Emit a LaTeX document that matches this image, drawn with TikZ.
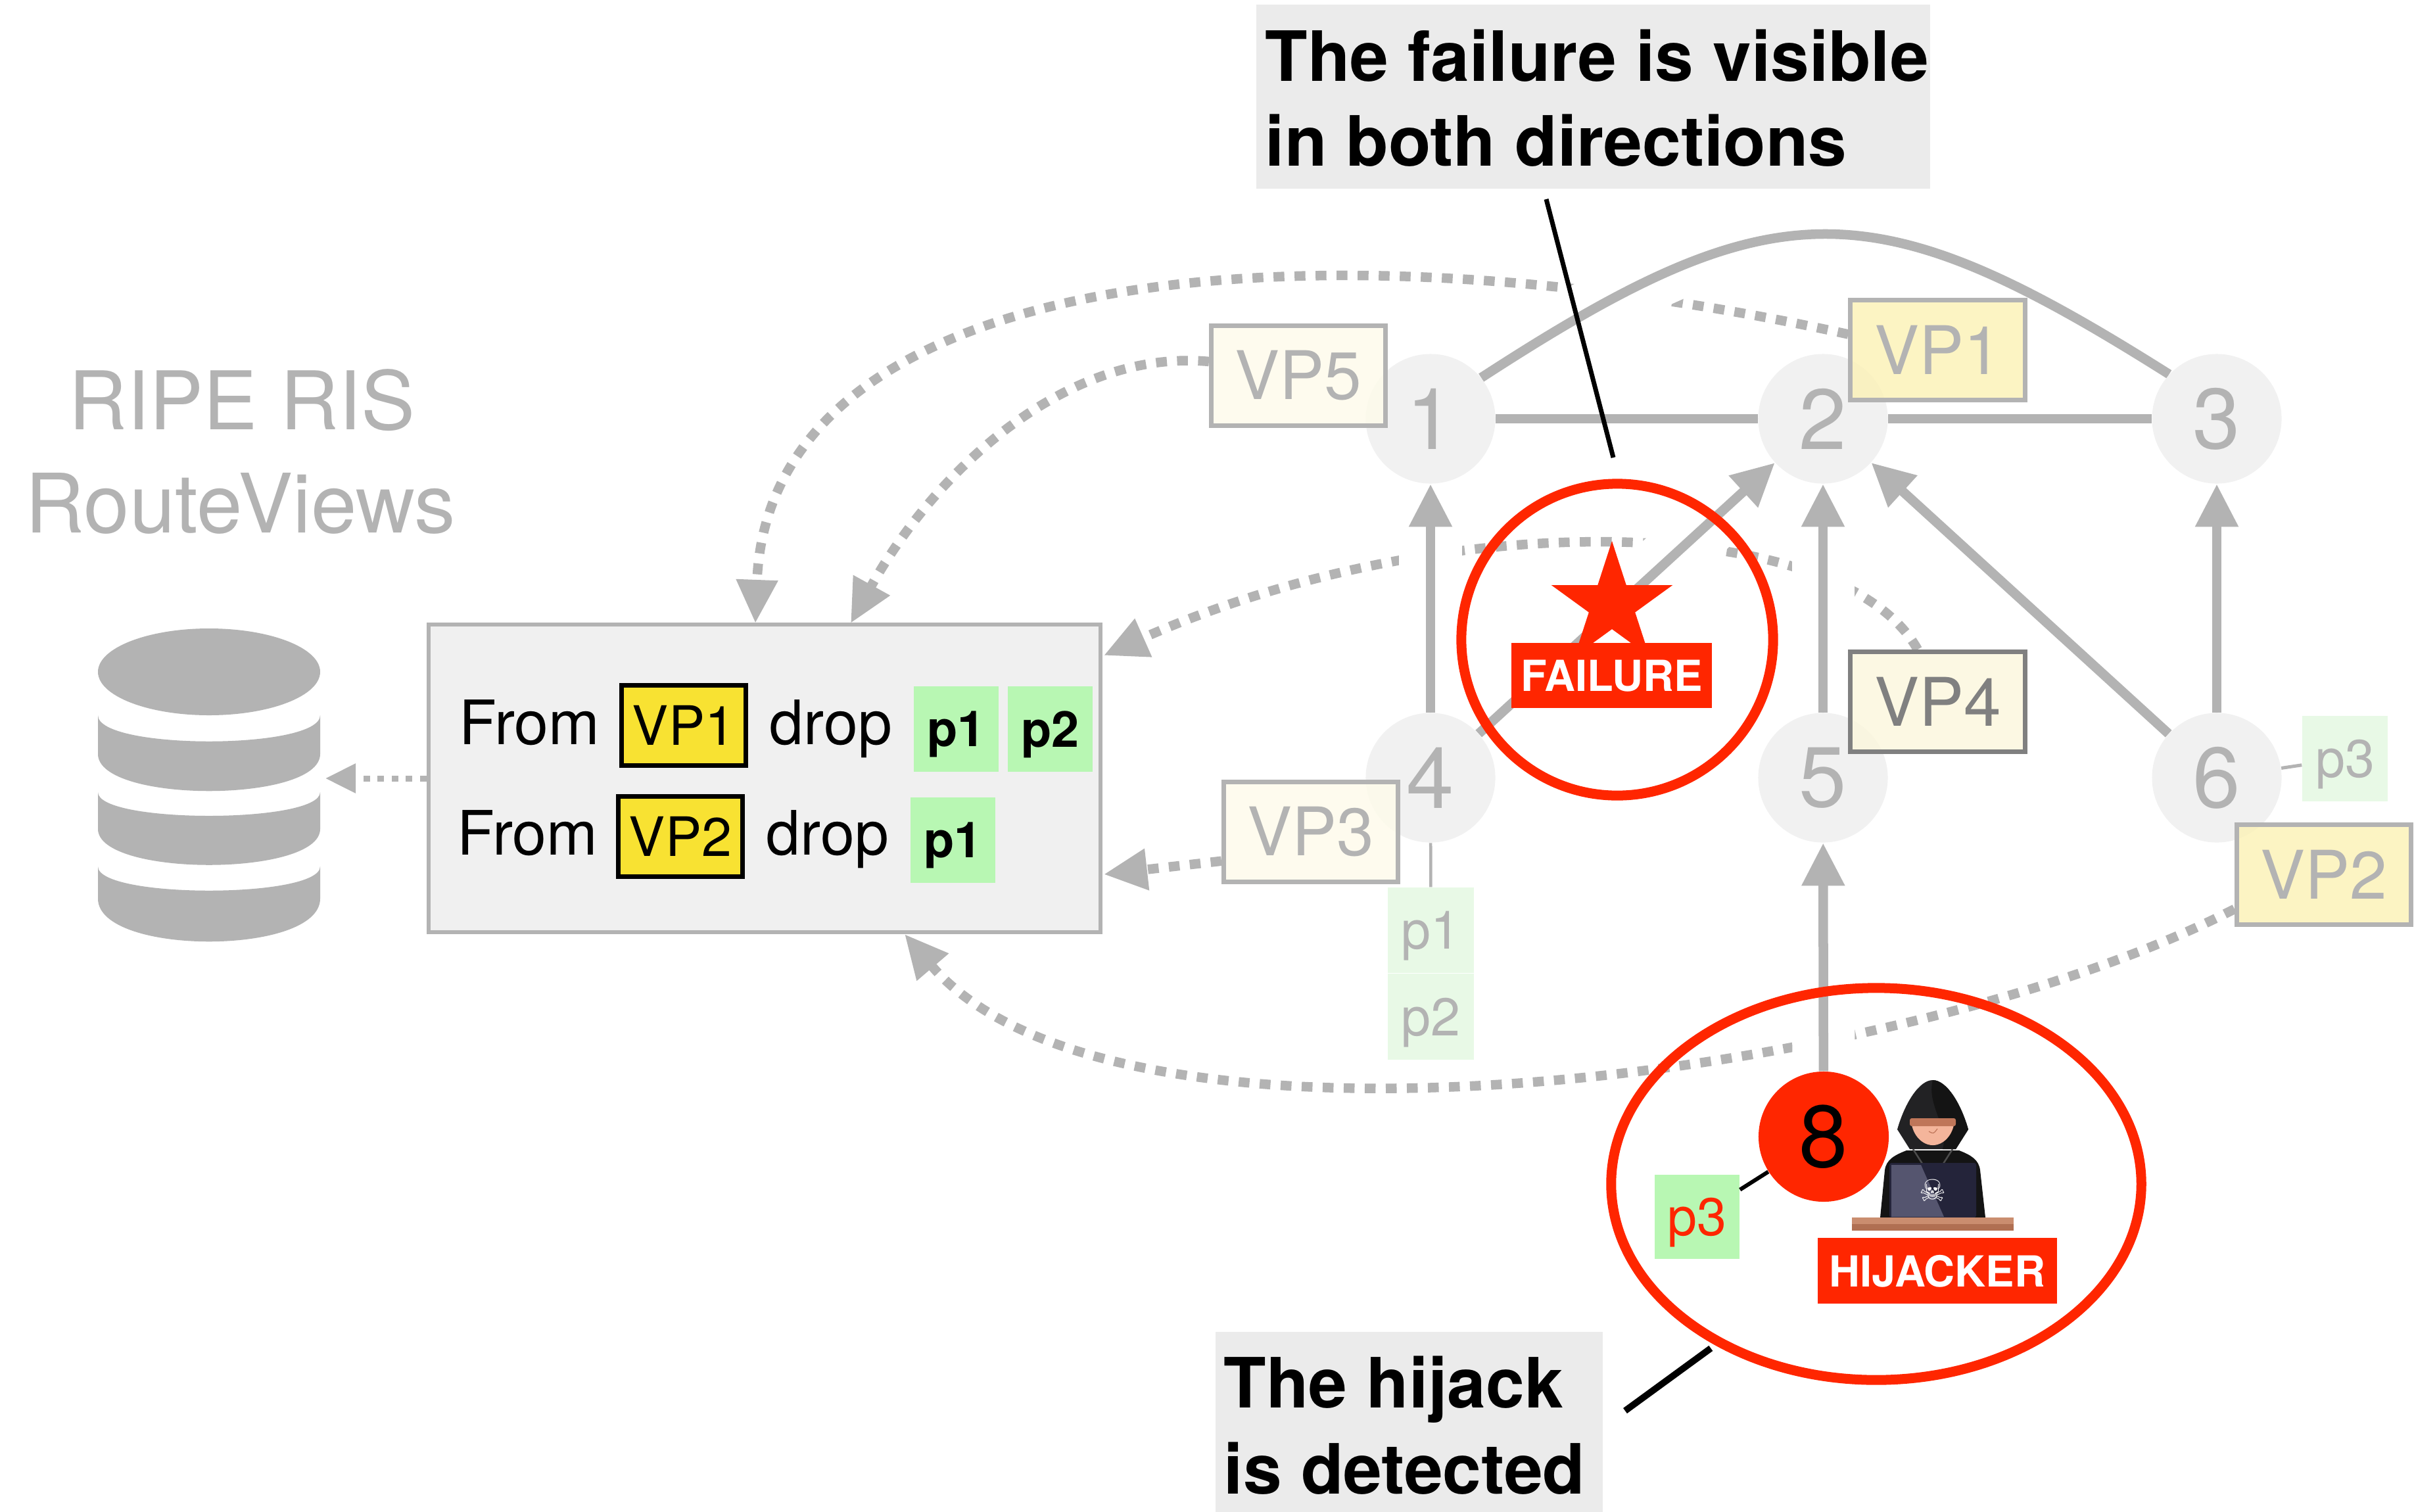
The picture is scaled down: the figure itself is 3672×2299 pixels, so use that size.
\documentclass[tikz,border=0pt]{standalone}
\usepackage{fontspec}
\setmainfont{TeX Gyre Heros}
\newfontfamily\symbolfont{DejaVu Sans}
\usetikzlibrary{arrows.meta,shapes.geometric}

\definecolor{lgray}{HTML}{B3B3B3}
\definecolor{nodefill}{HTML}{F1F1F1}
\definecolor{boxfill}{HTML}{F0F0F0}
\definecolor{notegray}{HTML}{EBEBEB}
\definecolor{hred}{HTML}{FF2600}
\definecolor{selyellow}{HTML}{F8E232}
\definecolor{pgreen}{HTML}{B8F7B3}
\definecolor{pfaded}{HTML}{E8F9E6}
\definecolor{vpyellow}{HTML}{FCF2B5}
\definecolor{vpfaint}{HTML}{FEFBEA}
\definecolor{vpcream}{HTML}{FCF7DC}
\definecolor{vpdark}{HTML}{808080}
\definecolor{hoodblack}{HTML}{141414}
\definecolor{hoodlight}{HTML}{222224}
\definecolor{skin}{HTML}{F4B59B}
\definecolor{hair}{HTML}{BF7659}
\definecolor{laptopdark}{HTML}{24243A}
\definecolor{laptoplight}{HTML}{55556F}
\definecolor{desktop}{HTML}{CA8D6F}
\definecolor{deskedge}{HTML}{B06F52}

\newcommand{\fs}[1]{\fontsize{#1pt}{#1pt}\selectfont}

\pgfdeclarelayer{canvas}
\pgfdeclarelayer{under}
\pgfdeclarelayer{halo}
\pgfdeclarelayer{links}
\pgfsetlayers{canvas,under,halo,links,main}

\begin{document}
\begin{tikzpicture}[x=0.01cm, y=-0.01cm,
  asnode/.style={circle, fill=nodefill, minimum size=1.97cm, inner sep=0pt, text=lgray, font=\fs{37}},
  link/.style={draw=lgray, line width=0.145cm},
  arr/.style={link, -{Triangle[length=0.65cm,width=0.62cm]}},
  halo/.style={draw=white, line width=0.95cm},
  feed/.style={draw=lgray, line width=0.145cm, dash pattern=on 0.165cm off 0.155cm, -{Triangle[length=0.66cm,width=0.6cm]}},
  dbfeed/.style={draw=lgray, line width=0.09cm, dash pattern=on 0.1cm off 0.115cm, -{Triangle[length=0.46cm,width=0.43cm]}},
  vp/.style={draw=lgray, line width=0.07cm, fill opacity=0.8, text opacity=1, text=lgray, font=\fs{29}, inner sep=0pt, minimum width=2.65cm, minimum height=1.52cm},
  sel/.style={draw=black, line width=0.07cm, fill=selyellow, minimum width=1.89cm, minimum height=1.22cm, inner sep=0pt, text depth=0pt, font=\fs{23.5}},
  pbox/.style={fill=pgreen, minimum width=1.29cm, minimum height=1.30cm, inner sep=0pt, text depth=0pt, font=\bfseries\fs{21.5}},
  pfade/.style={fill=pfaded, minimum width=1.30cm, minimum height=1.30cm, inner sep=0pt, text depth=0pt, text=lgray, font=\fs{23}},
  redtag/.style={fill=hred, text=white, inner sep=0pt, text depth=0pt, font=\bfseries\fs{18.5}},
  note/.style={fill=notegray, inner sep=0pt},
  notetext/.style={anchor=base west, inner sep=0pt, font=\bfseries\fs{30}},
  word/.style={anchor=base west, inner sep=0pt, font=\fs{26.5}},
  ring/.style={draw=hred, line width=0.15cm},
  callout/.style={draw=black, line width=0.07cm}
]
\useasboundingbox (0,0) rectangle (3672,2299);
\begin{pgfonlayer}{canvas}
  \fill[white] (0,0) rectangle (3672,2299);
\end{pgfonlayer}

% ---- top annotation
\node[note, minimum width=10.25cm, minimum height=2.80cm] (topnote) at (2423.5,147) {};
\node[notetext] (topnoteA) at (1924,123) {The failure is visible};
\node[notetext] (topnoteB) at (1924,252) {in both directions};

% ---- collector label and database
\node[anchor=base, inner sep=0pt, text=lgray, font=\fs{35}] (ripe) at (368,653) {RIPE RIS};
\node[anchor=base, inner sep=0pt, text=lgray, font=\fs{35.5}] (routeviews) at (366,810) {RouteViews};

\fill[lgray] (318,1022) ellipse[x radius=169, y radius=66];
\fill[lgray] (149,1088) .. controls (149,1141) and (487,1141) .. (487,1088)
  -- (487,1147) .. controls (487,1222) and (149,1222) .. (149,1147) -- cycle;
\fill[lgray] (149,1205) .. controls (149,1253) and (487,1253) .. (487,1205)
  -- (487,1261) .. controls (487,1334) and (149,1334) .. (149,1261) -- cycle;
\fill[lgray] (149,1318) .. controls (149,1367) and (487,1367) .. (487,1318)
  -- (487,1367) .. controls (487,1454) and (149,1454) .. (149,1367) -- cycle;
\coordinate (dbin) at (495,1184);

% ---- filter rules
\node[draw=lgray, line width=0.06cm, fill=boxfill, minimum width=10.22cm, minimum height=4.68cm, inner sep=0pt] (filter) at (1163,1184) {};
\node[word] (from1) at (698,1132) {From};
\node[sel] (sel1) at (1040,1103.5) {VP1};
\node[word] (drop1) at (1170,1132) {drop};
\node[pbox] (pa1) at (1454.5,1109) {p1};
\node[pbox] (pa2) at (1597.5,1109) {p2};
\node[word] (from2) at (695,1300) {From};
\node[sel] (sel2) at (1035,1272.5) {VP2};
\node[word] (drop2) at (1165,1300) {drop};
\node[pbox] (pb1) at (1449.5,1278) {p1};

\coordinate (inA) at (1149,948);
\coordinate (inB) at (1294,948);
\coordinate (inC) at (1679,997);
\coordinate (inD) at (1679,1330);
\coordinate (inE) at (1376,1421);

% ---- AS nodes
\node[asnode] (n1) at (2176,637) {1};
\node[asnode] (n2) at (2773,637) {2};
\node[asnode] (n3) at (3372,637) {3};
\node[asnode] (n4) at (2176,1183) {4};
\node[asnode] (n5) at (2773,1183) {5};
\node[asnode] (n6) at (3372,1183) {6};

% ---- failure
\node[circle, ring, minimum size=4.74cm, inner sep=0pt] (failzone) at (2460,973) {};
\fill[hred] (2452,920) +(-90:97) -- +(-54:37) -- +(-18:97) -- +(18:37) -- +(54:97)
  -- +(90:37) -- +(126:97) -- +(162:37) -- +(198:97) -- +(234:37) -- cycle;
\node[redtag, minimum width=3.05cm, minimum height=0.99cm] (failtag) at (2451.5,1027.5) {FAILURE};

% ---- vantage points
\node[vp, fill=vpfaint] (vp5) at (1975,571.5) {VP5};
\node[vp, fill=vpyellow] (vp1) at (2947.5,532.5) {VP1};
\node[vp, fill=vpcream, draw=vpdark, text=vpdark] (vp4) at (2947.5,1067.5) {VP4};
\node[vp, fill=vpfaint] (vp3) at (1994,1265.5) {VP3};
\node[vp, fill=vpyellow] (vp2) at (3535,1330.5) {VP2};

% ---- announced prefixes
\node[pfade] (pg1) at (2176.5,1415) {p1};
\node[pfade] (pg2) at (2176.5,1546.5) {p2};
\node[pfade] (pg3) at (3567,1154) {p3};

% ---- hijacker
\node[ellipse, ring, minimum width=8.06cm, minimum height=5.96cm, inner sep=0pt] (hijackzone) at (2854,1801) {};
\node[circle, fill=hred, minimum size=1.98cm, inner sep=0pt, font=\fs{38}] (n8) at (2774,1729) {8};
\node[pbox, minimum height=1.28cm, text=hred, font=\fs{23}] (p3h) at (2581.5,1851) {p3};
\draw[draw=black, line width=0.06cm] (n8) -- (p3h);

% hooded figure behind a laptop
\fill[hoodblack] (2860,1852) -- (2867,1780) .. controls (2869,1764) and (2882,1757) .. (2900,1750)
  -- (2980,1750) .. controls (2998,1757) and (3010,1764) .. (3012,1780) -- (3020,1852) -- cycle;
\fill[hoodlight] (2886,1718) .. controls (2898,1676) and (2920,1643) .. (2940,1643)
  .. controls (2960,1643) and (2982,1676) .. (2994,1718) -- (2975,1748) -- (2905,1748) -- cycle;
\fill[hoodblack] (2940,1643) .. controls (2960,1643) and (2982,1676) .. (2994,1718)
  -- (2975,1748) -- (2955,1748) .. controls (2965,1715) and (2930,1680) .. (2940,1643) -- cycle;
\fill[skin] (2907,1705) -- (2973,1705) .. controls (2971,1727) and (2956,1742) .. (2940,1742)
  .. controls (2924,1742) and (2909,1727) .. (2907,1705) -- cycle;
\fill[hair, rounded corners=0.03cm] (2905,1701) rectangle (2975,1713);
\draw[hair, line width=0.012cm] (2934,1721) .. controls (2941,1725) .. (2947,1717);
\draw[black!70, line width=0.025cm] (2910,1748) -- (2924,1770);
\draw[black!70, line width=0.025cm] (2970,1748) -- (2956,1770);
\fill[laptopdark, rounded corners=0.03cm] (2874,1769) rectangle (3006,1852);
\fill[laptoplight] (2877,1772) -- (2922,1772) -- (2957,1851) -- (2877,1851) -- cycle;
\node[text=white, inner sep=0pt, font=\symbolfont\fs{13}] (skull) at (2940,1811) {☠};
\fill[desktop] (2817,1852) rectangle (3063,1862);
\fill[deskedge] (2817,1862) rectangle (3063,1872);
\node[redtag, minimum width=3.64cm, minimum height=1.00cm] (hijtag) at (2947,1933) {HIJACKER};

% ---- callouts
\coordinate (c1a) at (2352,303);
\coordinate (c1b) at (2454,696);
\draw[callout] (c1a) -- (c1b);
\node[note, minimum width=5.89cm, minimum height=2.84cm] (botnote) at (2143.5,2168) {};
\node[notetext] (botnoteA) at (1861,2141) {The hijack};
\node[notetext] (botnoteB) at (1861,2272) {is detected};
\coordinate (c2a) at (2472,2146);
\draw[callout, line width=0.1cm, shorten <=0.08cm] (hijackzone.225) -- (c2a);

% ---- AS links
\begin{pgfonlayer}{links}
  \draw[link] (n1) -- (n2);
  \draw[link] (n2) -- (n3);
  \draw[link] (n1.39) .. controls (2700,284) and (2848,284) .. (n3.137);
  \draw[arr] (n4) -- (n1);
  \draw[arr] (n4) -- (n2);
  \draw[arr] (n5) -- (n2);
  \draw[arr] (n6) -- (n2);
  \draw[arr] (n6) -- (n3);
  \draw[arr] (n8) -- (n5);
  \draw[draw=lgray, line width=0.045cm] (n4) -- (pg1);
  \draw[draw=lgray, line width=0.05cm] (n6) -- (pg3);
\end{pgfonlayer}

% ---- gaps where the feeds pass under links
\begin{pgfonlayer}{halo}
  \draw[halo] (n4) -- (n1);
  \draw[halo] (n4) -- (n2);
  \draw[halo] (n5) -- (n2);
  \draw[halo] (n6) -- (n2);
  \draw[halo] (n8) -- (n5);
  \draw[halo] (n1.39) .. controls (2700,284) and (2848,284) .. (n3.137);
\end{pgfonlayer}

% ---- route feeds to the collector
\begin{pgfonlayer}{under}
  \draw[feed] (vp1.170) .. controls (2000,330) and (1170,400) .. (inA);
  \draw[feed] (vp5.171) .. controls (1620,530) and (1420,720) .. (inB);
  \draw[feed] (vp4.111) .. controls (2800,780) and (2200,765) .. (inC);
  \draw[feed] (vp3.198) -- (inD);
  \draw[feed] (vp2.201) .. controls (2900,1640) and (1700,1800) .. (inE);
  \draw[dbfeed] (filter.west) -- (dbin);
\end{pgfonlayer}
\end{tikzpicture}
\end{document}
